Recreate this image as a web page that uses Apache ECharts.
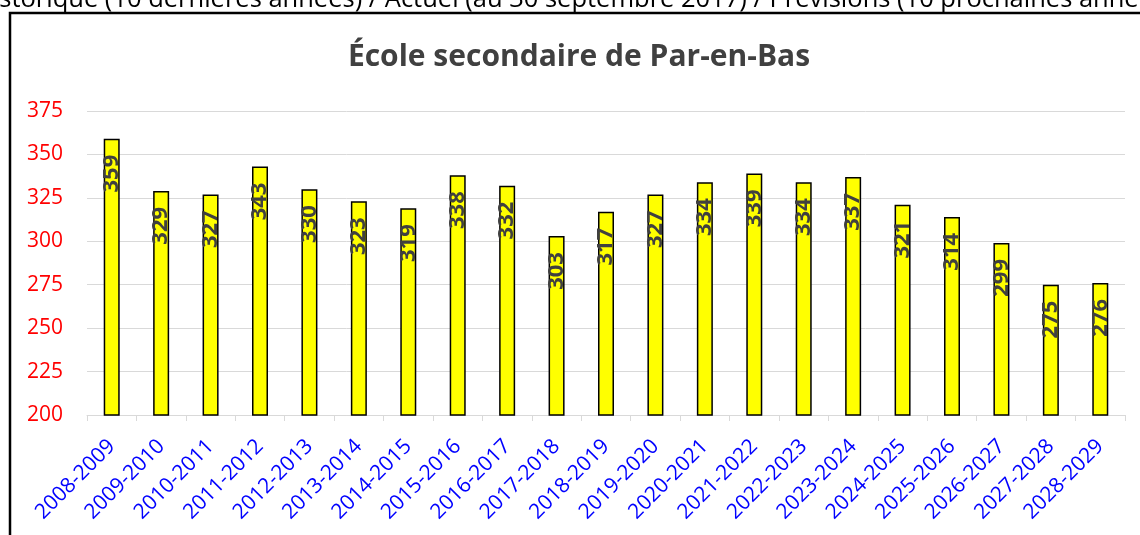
<!DOCTYPE html>
<html>
<head>
<meta charset="utf-8">
<script src="https://cdn.jsdelivr.net/npm/echarts@6/dist/echarts.min.js"></script>
<style>
  html, body { margin: 0; padding: 0; background: #fff; }
  #main { width: 1140px; height: 535px; }
</style>
</head>
<body>
<div id="main"></div>
<script>
// années scolaires
const years = [
  '2008-2009', '2009-2010', '2010-2011', '2011-2012', '2012-2013', '2013-2014',
  '2014-2015', '2015-2016', '2016-2017', '2017-2018', '2018-2019', '2019-2020',
  '2020-2021', '2021-2022', '2022-2023', '2023-2024', '2024-2025', '2025-2026',
  '2026-2027', '2027-2028', '2028-2029'
]
// effectifs
const enrolment = [
  359, 329, 327, 343, 330, 323, 319, 338, 332, 303, 317,
  327, 334, 339, 334, 337, 321, 314, 299, 275, 276
]
const yMin = 200
const yMax = 375
const yStep = 25

const chart = echarts.init(document.getElementById('main'))

const option = {
  animation: false,
  backgroundColor: '#fff',
  title: {
    text: 'École secondaire de Par-en-Bas',
    left: 574,
    textAlign: 'center',
    top: 37,
    textStyle: {
      color: '#404040',
      fontFamily: 'Open Sans',
      fontWeight: 'bold',
      fontSize: 30,
    },
  },
  graphic: [
    {
      // cadre du graphique
      type: 'rect',
      shape: { x: 10, y: 13, width: 1200, height: 600 },
      style: { fill: 'none', stroke: '#000', lineWidth: 2.5 },
      silent: true,
    },
    {
      // en-tête coupé au-dessus du cadre
      type: 'text',
      x: -26,
      y: 13,
      style: {
        text: 'Historique (10 dernières années) / Actuel (au 30 septembre 2017) / Prévisions (10 prochaines années)',
        fill: '#000',
        font: '25.5px "Open Sans"',
        textAlign: 'left',
        textVerticalAlign: 'bottom',
      },
      silent: true,
    },
  ],
  grid: {
    left: 87,
    right: 15,
    top: 111,
    bottom: 120,
  },
  xAxis: {
    type: 'category',
    data: years,
    axisLine: { show: true, lineStyle: { color: '#d9d9d9', width: 1 } },
    axisTick: { show: true, length: 6, lineStyle: { color: '#d9d9d9' } },
    axisLabel: {
      interval: 0,
      rotate: 45,
      margin: 28,
      color: '#0000ff',
      fontFamily: 'Open Sans',
      fontSize: 21,
    },
  },
  yAxis: {
    type: 'value',
    min: yMin,
    max: yMax,
    interval: yStep,
    axisLine: { show: false },
    axisTick: { show: false },
    axisLabel: {
      margin: 24,
      color: '#ff0000',
      fontFamily: 'Open Sans',
      fontSize: 21,
    },
    splitLine: { show: true, lineStyle: { color: '#d9d9d9', width: 1 } },
  },
  series: [
    {
      type: 'bar',
      data: enrolment,
      barWidth: 16,
      itemStyle: {
        color: '#ffff00',
        borderColor: '#000',
        borderWidth: 1.5,
      },
      label: {
        show: true,
        position: 'insideTop',
        rotate: 90,
        align: 'right',
        verticalAlign: 'middle',
        distance: 16,
        color: '#404040',
        fontFamily: 'Open Sans',
        fontWeight: 'bold',
        fontSize: 22,
      },
    },
  ],
}

chart.setOption(option)
</script>
</body>
</html>
